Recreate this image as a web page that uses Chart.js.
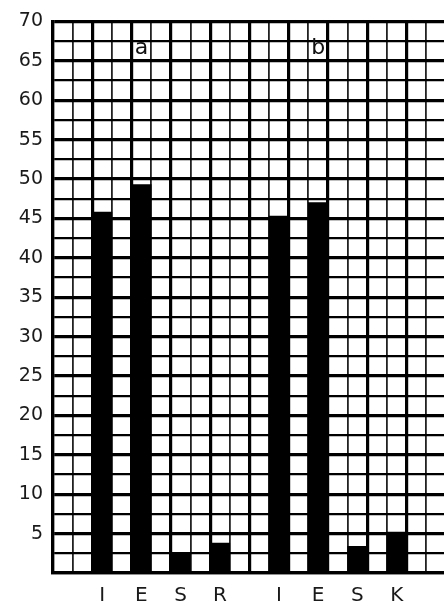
<!DOCTYPE html>
<html>
<head>
<meta charset="utf-8">
<script src="https://cdn.jsdelivr.net/npm/chart.js@4"></script>
<style>
html, body { margin: 0; padding: 0; background: #fff; overflow: hidden; }
#wrap { width: 447px; height: 607px; position: relative; }
</style>
</head>
<body>
<div id="wrap"><canvas id="c"></canvas></div>
<script>
// ---- data ----
const panelLabels = ['a', 'b'];
const labelsA = ['I', 'E', 'S', 'R'];
const labelsB = ['I', 'E', 'S', 'K'];
const seriesA = [45.8, 49.3, 2.5, 3.8];
const seriesB = [45.3, 47.0, 3.4, 5.2];
const yTicks = [5, 10, 15, 20, 25, 30, 35, 40, 45, 50, 55, 60, 65, 70];

// ---- build grid-paper slots: bars sit in every other cell ----
const slots = [];
const slotValues = [];
function pushEmpty(n) { for (let i = 0; i < n; i++) { slots.push(''); slotValues.push(null); } }
const panelIdx = [];
pushEmpty(2);
labelsA.forEach((l, i) => {
  if (i === 1) panelIdx.push(slots.length);
  slots.push(l); slotValues.push(seriesA[i]); pushEmpty(1);
});
pushEmpty(1);
labelsB.forEach((l, i) => {
  if (i === 1) panelIdx.push(slots.length);
  slots.push(l); slotValues.push(seriesB[i]); pushEmpty(1);
});
pushEmpty(1);

const panelText = {
  id: 'panelText',
  afterDatasetsDraw(chart) {
    const ctx = chart.ctx;
    const xs = chart.scales.x, ys = chart.scales.y;
    ctx.save();
    ctx.fillStyle = '#111';
    ctx.font = '22px "DejaVu Sans"';
    ctx.textAlign = 'center';
    ctx.textBaseline = 'middle';
    panelLabels.forEach((t, i) => {
      ctx.fillText(t, xs.getPixelForValue(panelIdx[i]), ys.getPixelForValue(66.6));
    });
    ctx.restore();
  }
};

new Chart(document.getElementById('c'), {
  type: 'bar',
  data: {
    labels: slots,
    datasets: [{
      data: slotValues,
      backgroundColor: '#000',
      borderWidth: 0,
      barPercentage: 1,
      categoryPercentage: 1
    }]
  },
  options: {
    responsive: true,
    maintainAspectRatio: false,
    animation: false,
    layout: { padding: { top: 14, left: 0, right: 0, bottom: 0 } },
    plugins: { legend: { display: false }, tooltip: { enabled: false } },
    scales: {
      x: {
        offset: true,
        afterFit(s) { s.height = 34; },
        grid: {
          offset: true,
          drawTicks: false,
          color: (c) => (c.index === undefined || c.index % 2 === 0) ? '#000' : '#222',
          lineWidth: (c) => (c.index === undefined || c.index % 2 === 0) ? 3.2 : 1.8
        },
        border: { display: true, color: '#000', width: 3.2 },
        ticks: {
          autoSkip: false, maxRotation: 0, padding: 11,
          color: '#1a1a1a',
          font: { family: '"DejaVu Sans"', size: 20 }
        }
      },
      y: {
        min: 0, max: 70,
        afterFit(s) { s.width = 53; },
        afterBuildTicks(s) {
          const t = [];
          for (let v = 0; v <= 70; v += 2.5) t.push({ value: v });
          s.ticks = t;
        },
        grid: {
          drawTicks: false,
          color: '#000',
          lineWidth: (c) => (c.tick && c.tick.value % 5 === 0) ? 3.2 : 2.2
        },
        border: { display: true, color: '#000', width: 3.2 },
        ticks: {
          autoSkip: false,
          padding: 10,
          color: '#1a1a1a',
          font: { family: '"DejaVu Sans"', size: 19 },
          callback: (v) => yTicks.includes(v) ? String(v) : ''
        }
      }
    }
  },
  plugins: [panelText]
});
</script>
</body>
</html>
